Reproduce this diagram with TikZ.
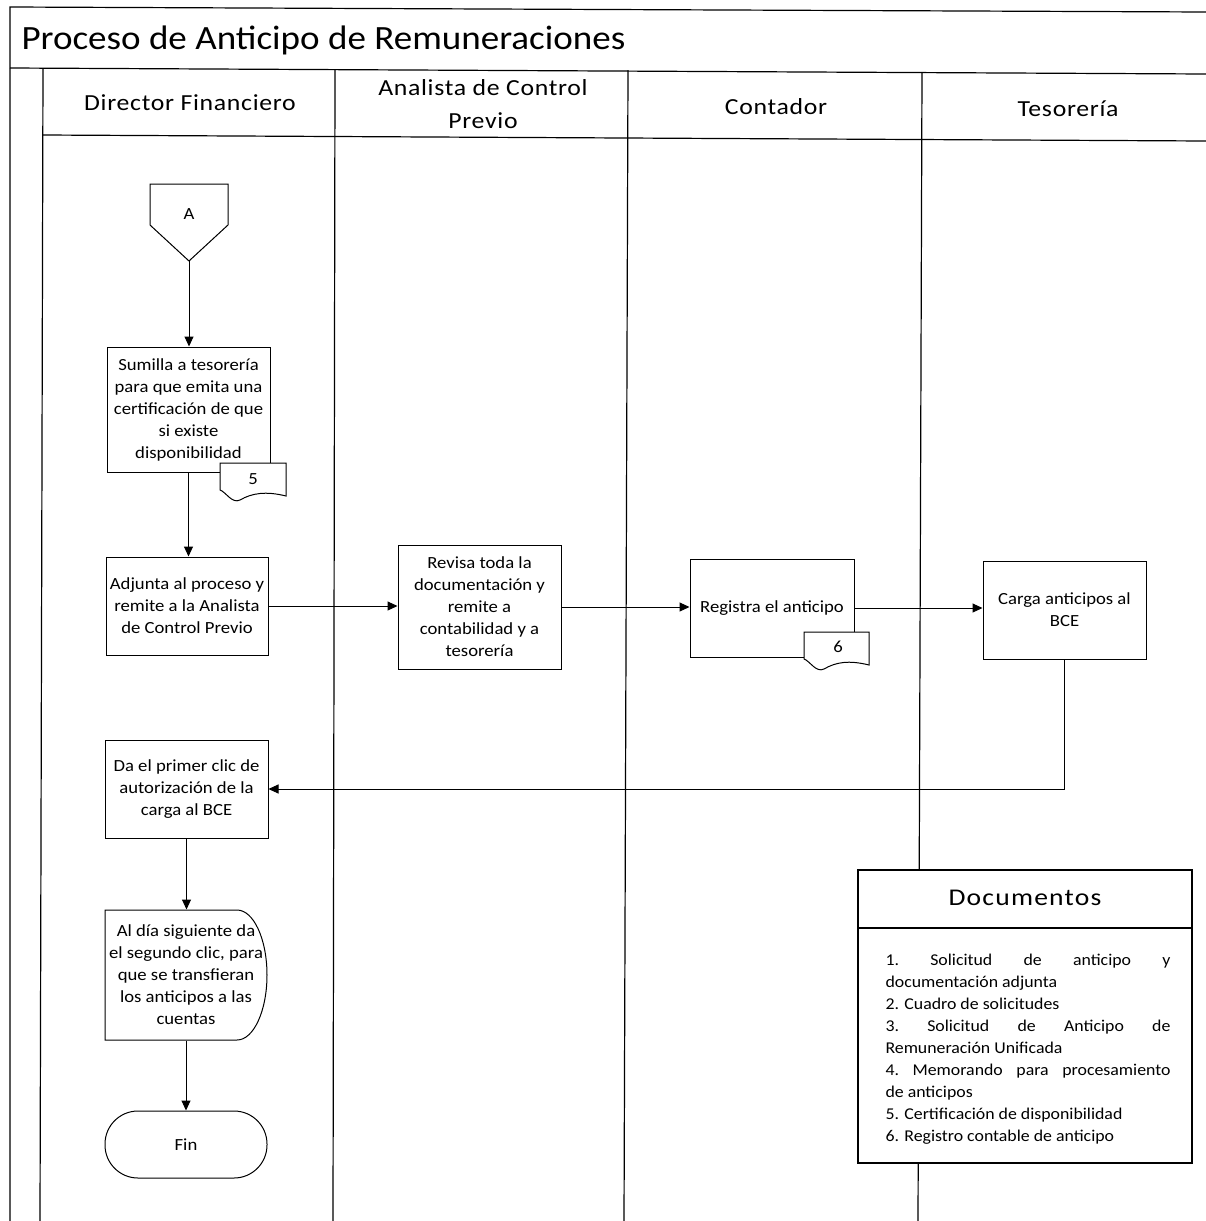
\documentclass[tikz,border=0pt]{standalone}
\usepackage{fontspec}
\setmainfont{Carlito}
\newfontfamily\titlefont{Carlito}[FakeStretch=1.09]
\newfontfamily\headfont{Carlito}[FakeStretch=1.12, LetterSpace=3]
\newfontfamily\boxfont{Carlito}[FakeStretch=1.1]
\newfontfamily\docfont{Carlito}[FakeStretch=1.08]
\newfontfamily\docheadfont{Carlito}[FakeStretch=1.15, LetterSpace=5]
\usetikzlibrary{arrows.meta}
\begin{document}
\begin{tikzpicture}[x=1pt,y=-1pt,
  line width=1pt,
  box/.style={draw, fill=white, line width=1pt, align=center, font=\boxfont\fontsize{17}{22}\selectfont, inner sep=0pt},
  arr/.style={-{Triangle[length=10pt,width=9pt]}, line width=1pt},
  frameline/.style={line width=1.2pt},
  lanehead/.style={font=\headfont\fontsize{23}{33}\selectfont, align=center},
  tagshape/.style={draw, fill=white, line width=1pt},
  smalltext/.style={font=\boxfont\fontsize{17}{22}\selectfont}]
\useasboundingbox[fill=white] (0,0) rectangle (1206,1221);

% frame
\draw[frameline] (10,1221) -- (10,7) -- (1206,12);
\draw[frameline] (10,68) -- (1206,74);
\draw[frameline] (43,135) -- (1206,141);
\draw[frameline] (43,68) -- (40,1221);
\draw[frameline] (335,69) -- (333,1221);
\draw[frameline] (628,70) -- (624,1221);
\draw[frameline] (922,72) -- (918,1221);

% title and lane headers
\node[anchor=west, font=\titlefont\fontsize{34}{40}\selectfont, inner sep=0pt] (title) at (21,40) {Proceso de Anticipo de Remuneraciones};
\node[lanehead] (h1) at (190,103) {Director Financiero};
\node[lanehead] (h2) at (483,104) {Analista de Control\\Previo};
\node[lanehead] (h3) at (776,107) {Contador};
\node[lanehead] (h4) at (1068,109) {Tesorería};

% off-page connector A
\draw[line width=1pt, fill=white] (150,184) -- (228,184) -- (228,225) -- (189,261) -- (150,225) -- cycle;
\node[smalltext] (A) at (189,214) {A};
\coordinate (Atip) at (189,261);

% process boxes
\node[box, minimum width=163pt, minimum height=125pt] (s1) at (188.5,409.5) {Sumilla a tesorería\\para que emita una\\certificación de que\\si existe\\disponibilidad};
\node[box, minimum width=162pt, minimum height=98pt] (s2) at (187,606) {Adjunta al proceso y\\remite a la Analista\\de Control Previo};
\node[box, minimum width=163pt, minimum height=124pt] (s3) at (479.5,607) {Revisa toda la\\documentación y\\remite a\\contabilidad y a\\tesorería};
\node[box, minimum width=164pt, minimum height=98pt] (s4) at (772,608) {Registra el anticipo};
\node[box, minimum width=163pt, minimum height=98pt] (s5) at (1064.5,610) {Carga anticipos al\\BCE};
\node[box, minimum width=163pt, minimum height=98pt] (s6) at (186.5,789) {Da el primer clic de\\autorización de la\\carga al BCE};

% delay shape
\draw[line width=1pt, fill=white] (105,910) -- (237,910) .. controls (253.6,910) and (267,939.1) .. (267,975) .. controls (267,1010.9) and (253.6,1040) .. (237,1040) -- (105,1040) -- cycle;
\node[align=center, smalltext, inner sep=0pt, minimum width=162pt, minimum height=130pt] (s7) at (186,975) {Al día siguiente da\\el segundo clic, para\\que se transfieran\\los anticipos a las\\cuentas};

% terminator
\node[draw, line width=1pt, rounded corners=33pt, minimum width=162pt, minimum height=67pt, smalltext] (s8) at (186,1144.5) {Fin};

% document tags
\draw[tagshape] (220,463) -- (286,463) -- (286,496) .. controls (266,491) and (252,493) .. (240,500) .. controls (232,504) and (226,492) .. (220,490) -- cycle;
\node[smalltext] (t5) at (253,479) {5};
\draw[tagshape] (804,632) -- (869,632) -- (869,665) .. controls (849,660) and (836,662) .. (824,669) .. controls (816,673) and (810,661) .. (804,659) -- cycle;
\node[smalltext] (t6) at (838,647) {6};

% connectors
\draw[arr] (Atip) -- (Atip |- s1.north);
\draw[arr] (s1.south) -- (s1.south |- s2.north);
\draw[arr] (s2.east) -- (s2.east -| s3.west);
\draw[arr] (s3.east) -- (s3.east -| s4.west);
\draw[arr] (s4.east) -- (s4.east -| s5.west);
\draw[arr] (s5.south) |- (s6.east);
\draw[arr] (s6.south) -- (s6.south |- s7.north);
\draw[arr] (s7.south) -- (s7.south |- s8.north);

% documentos box
\node[draw, fill=white, line width=1.2pt, minimum width=334pt, minimum height=293pt, inner sep=0pt] (docs) at (1025,1016.5) {};
\draw[line width=1.2pt] (docs.north west |- 0,928) coordinate (dl) -- (docs.north east |- 0,928) coordinate (dr);
\node[font=\docheadfont\fontsize{24}{28}\selectfont] (docst) at (1025,898) {Documentos};
\node[anchor=base west, inner sep=0pt, font=\docfont\fontsize{16.5}{22}\selectfont] (docl) at (885,965) {\parbox[t]{285pt}{\baselineskip=22pt
\hbox to\hsize{1.\hfill Solicitud\hfill de\hfill anticipo\hfill y}
\hbox{documentación adjunta}
\hbox{2. Cuadro de solicitudes}
\hbox to\hsize{3.\hfill Solicitud\hfill de\hfill Anticipo\hfill de}
\hbox{Remuneración Unificada}
\hbox to\hsize{4.\hfill Memorando\hfill para\hfill procesamiento}
\hbox{de anticipos}
\hbox{5. Certificación de disponibilidad}
\hbox{6. Registro contable de anticipo}}};
\end{tikzpicture}
\end{document}
